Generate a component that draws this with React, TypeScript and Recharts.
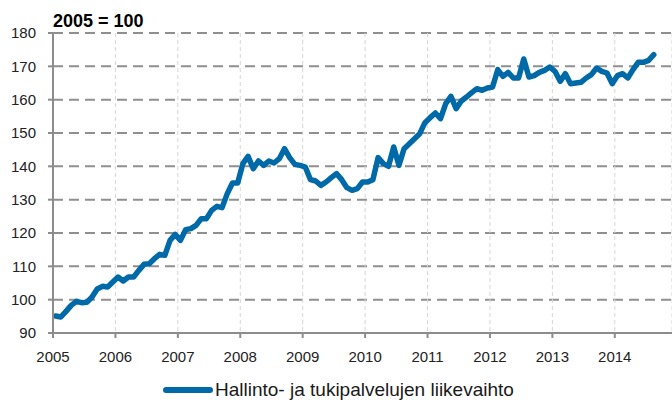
import React from 'react';
import { LineChart, Line, XAxis, YAxis, CartesianGrid, Legend } from 'recharts';

// Monthly index values, 2005 = 100 (Jan 2005 - Aug 2014)
const v2005 = [95.1, 94.8, 96.5, 98.3, 99.5, 99.1, 99.2, 100.8, 103.2, 104, 103.8, 105.3];
const v2006 = [106.8, 105.6, 106.8, 106.8, 108.8, 110.6, 110.8, 112.3, 113.6, 113.3, 117.8, 119.6];
const v2007 = [117.8, 121, 121.3, 122.3, 124.3, 124.3, 126.8, 128, 127.6, 131.8, 135, 135];
const v2008 = [140.8, 143, 139.3, 141.6, 140.3, 141.6, 141, 142.3, 145.3, 142.6, 140.6, 140.3];
const v2009 = [139.8, 136, 135.6, 134.3, 135.3, 136.6, 137.8, 136, 133.6, 132.8, 133.3, 135.3];
const v2010 = [135.3, 136, 142.6, 140.8, 140, 145.8, 140.3, 145.3, 146.8, 148.3, 149.8, 153.1];
const v2011 = [154.6, 156, 154.3, 158.8, 161, 157.3, 159.6, 160.8, 162.1, 163.3, 162.8, 163.5];
const v2012 = [163.8, 169, 167, 168.2, 166.5, 166.5, 172.2, 166.8, 167.2, 168.2, 168.8, 169.8];
const v2013 = [168.5, 165.5, 167.8, 164.8, 165, 165.2, 166.5, 167.5, 169.5, 168.5, 168, 164.8];
const v2014 = [167.2, 167.8, 166.5, 169, 171.2, 171.2, 171.8, 173.5];

const years = ['2005', '2006', '2007', '2008', '2009', '2010', '2011', '2012', '2013', '2014'];
const yTicks = [90, 100, 110, 120, 130, 140, 150, 160, 170, 180];
const seriesName = 'Hallinto- ja tukipalvelujen liikevaihto';

const values = [...v2005, ...v2006, ...v2007, ...v2008, ...v2009, ...v2010, ...v2011, ...v2012, ...v2013, ...v2014];
const data = values.map((v, i) => ({ i, v }));
const xTicks = years.map((_, k) => k * 12 - 0.5);

const BLUE = '#0069a8';
const FONT = '"Liberation Sans", Arial, sans-serif';

const LegendContent = () => (
  <div style={{ display: 'flex', alignItems: 'center', fontFamily: FONT, fontSize: 19, color: '#1a1a1a' }}>
    <svg width={52} height={12}>
      <line x1={3} y1={6} x2={47} y2={6} stroke={BLUE} strokeWidth={6} strokeLinecap="round" />
    </svg>
    <span>{seriesName}</span>
  </div>
);

const App: React.FC = () => {
  return (
    <div style={{ position: 'absolute', left: 0, top: 0, width: 672, height: 405, background: '#fff' }}>
      <div
        style={{
          position: 'absolute',
          left: 53,
          top: 12,
          fontFamily: FONT,
          fontWeight: 'bold',
          fontSize: 18,
          lineHeight: '18px',
          color: '#000',
        }}
      >
        2005 = 100
      </div>
      <LineChart width={672} height={405} data={data} margin={{ top: 33, right: 0, left: 0, bottom: 42 }}>
        <CartesianGrid vertical={false} stroke="#8f8f8f" strokeWidth={2} strokeDasharray="10 6" />
        <CartesianGrid horizontal={false} stroke="#d6d6d6" strokeWidth={1} strokeDasharray="4 3" />
        <XAxis
          type="number"
          dataKey="i"
          domain={[-0.5, 118.5]}
          ticks={xTicks}
          tickFormatter={(t: number) => years[Math.round((t + 0.5) / 12)]}
          height={30}
          tickSize={5}
          tickMargin={13}
          stroke="#8c8c8c"
          strokeWidth={2}
          tick={{ fill: '#222', fontSize: 15, fontFamily: FONT }}
          allowDataOverflow
        />
        <YAxis
          domain={[90, 180]}
          ticks={yTicks}
          width={53}
          tickSize={5}
          tickMargin={12}
          stroke="#8c8c8c"
          strokeWidth={2}
          tick={{ fill: '#222', fontSize: 15, fontFamily: FONT }}
          interval={0}
        />
        <Legend
          layout="horizontal"
          verticalAlign="middle"
          content={<LegendContent />}
          wrapperStyle={{ top: 379, left: 163, width: 'auto' }}
        />
        <Line
          type="linear"
          dataKey="v"
          name={seriesName}
          stroke={BLUE}
          strokeWidth={5.5}
          strokeLinejoin="round"
          strokeLinecap="round"
          dot={false}
          activeDot={false}
          isAnimationActive={false}
        />
      </LineChart>
    </div>
  );
};

export default App;
